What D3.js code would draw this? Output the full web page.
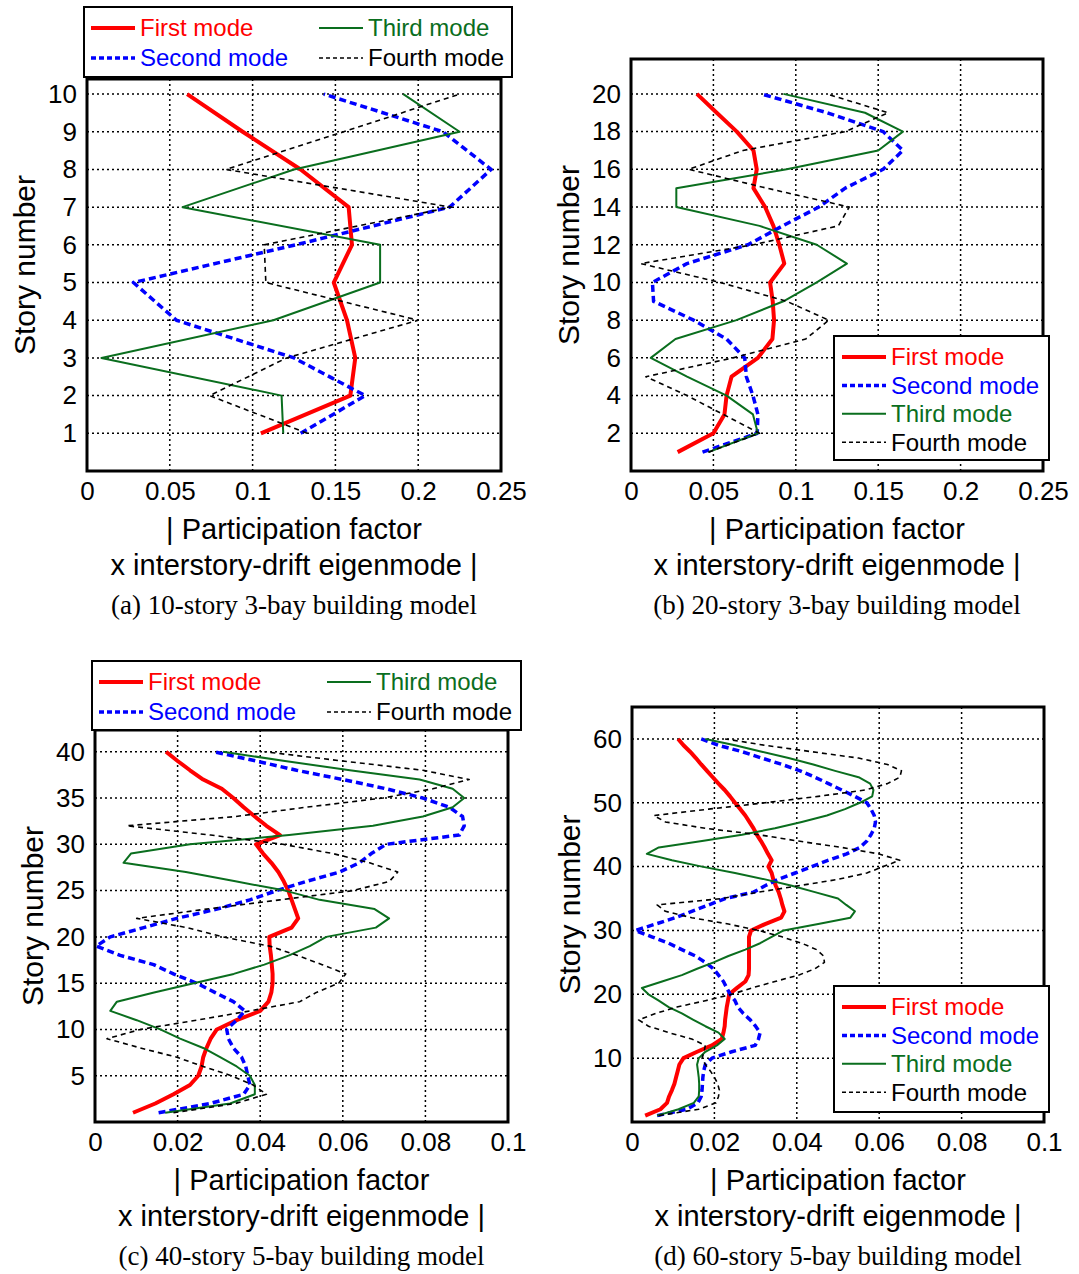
<!DOCTYPE html>
<html>
<head>
<meta charset="utf-8">
<script src="https://cdn.jsdelivr.net/npm/d3@7"></script>
<style>
  body { margin: 0; background: #fff; }
</style>
</head>
<body>
<div id="chart"></div>
<script>
// values are read per story, from story 1 (bottom) to the top story
var modeNames = ["First mode", "Second mode", "Third mode", "Fourth mode"];

// (a) 10-story
var a_first = [0.105, 0.159, 0.162, 0.157, 0.149, 0.160, 0.158, 0.129, 0.094, 0.0605];
var a_second = [0.129, 0.168, 0.125, 0.054, 0.028, 0.126, 0.219, 0.244, 0.215, 0.143];
var a_third = [0.1185, 0.1175, 0.0087, 0.1125, 0.177, 0.177, 0.0577, 0.125, 0.225, 0.191];
var a_fourth = [0.133, 0.074, 0.1206, 0.200, 0.108, 0.107, 0.220, 0.084, 0.155, 0.225];

// (b) 20-story
var b_first = [0.0283, 0.050, 0.0567, 0.058, 0.061, 0.077, 0.0858, 0.0868, 0.086, 0.0844,
  0.093, 0.090, 0.0864, 0.0814, 0.0743, 0.0763, 0.0743, 0.0642, 0.052, 0.040];
var b_second = [0.0434, 0.0766, 0.077, 0.074, 0.070, 0.069, 0.058, 0.038, 0.0137, 0.013,
  0.034, 0.071, 0.092, 0.114, 0.130, 0.153, 0.165, 0.153, 0.119, 0.079];
var b_third = [0.047, 0.077, 0.074, 0.058, 0.034, 0.012, 0.027, 0.064, 0.0925, 0.1127,
  0.131, 0.1127, 0.078, 0.0275, 0.0275, 0.0945, 0.150, 0.165, 0.142, 0.0925];
var b_fourth = [0.047, 0.078, 0.056, 0.034, 0.009, 0.062, 0.106, 0.120, 0.0945, 0.054,
  0.006, 0.0743, 0.1258, 0.1324, 0.0824, 0.035, 0.068, 0.130, 0.156, 0.1187];

// (c) 40-story
var c_first = [0.0092, 0.0146, 0.019, 0.023, 0.025, 0.0258, 0.0262, 0.027, 0.028, 0.0295,
  0.0343, 0.040, 0.042, 0.0427, 0.043, 0.043, 0.0428, 0.0426, 0.0423, 0.0422,
  0.0476, 0.0492, 0.0484, 0.0476, 0.0468, 0.0457, 0.0444, 0.0427, 0.0407, 0.039,
  0.0448, 0.0415, 0.0387, 0.036, 0.0335, 0.0307, 0.0262, 0.023, 0.020, 0.0172];
var c_second = [0.0154, 0.0279, 0.036, 0.0375, 0.037, 0.0365, 0.0355, 0.0335, 0.0323, 0.0319,
  0.0343, 0.0363, 0.0335, 0.029, 0.0246, 0.019, 0.0142, 0.0061, 0.0003, 0.0037,
  0.0118, 0.0198, 0.0295, 0.0375, 0.044, 0.0512, 0.0592, 0.064, 0.0669, 0.0705,
  0.0882, 0.0894, 0.089, 0.0858, 0.0794, 0.0705, 0.060, 0.0488, 0.039, 0.0288];
var c_third = [0.017, 0.0327, 0.0387, 0.0387, 0.0375, 0.0343, 0.0303, 0.0262, 0.0206, 0.0158,
  0.0101, 0.0037, 0.0053, 0.0143, 0.0239, 0.0336, 0.041, 0.047, 0.052, 0.056,
  0.068, 0.0712, 0.0677, 0.0544, 0.046, 0.034, 0.022, 0.0069, 0.0087, 0.023,
  0.047, 0.0673, 0.0794, 0.0866, 0.0894, 0.0866, 0.0786, 0.0617, 0.046, 0.031];
var c_fourth = [0.019, 0.034, 0.0415, 0.0383, 0.033, 0.0262, 0.0198, 0.011, 0.0029, 0.011,
  0.0246, 0.0375, 0.0496, 0.0536, 0.059, 0.0607, 0.055, 0.049, 0.0423, 0.031,
  0.0222, 0.0101, 0.027, 0.0448, 0.0625, 0.0713, 0.0733, 0.0665, 0.0576, 0.0455,
  0.028, 0.0077, 0.034, 0.051, 0.0697, 0.0818, 0.0906, 0.0794, 0.060, 0.041];

// (d) 60-story
var d_first = [0.0032, 0.0069, 0.0085, 0.009, 0.0097, 0.0103, 0.0107, 0.0111, 0.0115, 0.0125,
  0.0158, 0.0194, 0.0218, 0.0222, 0.0225, 0.0226, 0.0228, 0.023, 0.0233, 0.0236,
  0.0255, 0.0275, 0.0283, 0.0284, 0.0284, 0.0284, 0.0284, 0.0284, 0.0284, 0.0289,
  0.0323, 0.0362, 0.037, 0.0365, 0.0361, 0.0356, 0.0349, 0.0343, 0.0339, 0.0331,
  0.0339, 0.033, 0.0322, 0.0313, 0.0303, 0.0295, 0.0285, 0.0275, 0.0263, 0.025,
  0.0238, 0.0225, 0.021, 0.0196, 0.0182, 0.0168, 0.0155, 0.0141, 0.0125, 0.0112];
var d_second = [0.0061, 0.0133, 0.016, 0.0168, 0.017, 0.0171, 0.0172, 0.0174, 0.0178, 0.0194,
  0.0242, 0.0299, 0.0307, 0.0311, 0.030, 0.0287, 0.027, 0.0257, 0.025, 0.0238,
  0.023, 0.0222, 0.021, 0.0198, 0.0178, 0.0154, 0.0121, 0.0089, 0.0048, 0.0008,
  0.0057, 0.0105, 0.0145, 0.0186, 0.0226, 0.0295, 0.0323, 0.0355, 0.0396, 0.0436,
  0.0477, 0.0521, 0.0553, 0.057, 0.058, 0.0588, 0.0591, 0.0588, 0.058, 0.057,
  0.0541, 0.0509, 0.0477, 0.0444, 0.0408, 0.0364, 0.0315, 0.0267, 0.021, 0.0168];
var d_third = [0.0061, 0.0113, 0.015, 0.0162, 0.0163, 0.0163, 0.0162, 0.016, 0.0158, 0.0162,
  0.0178, 0.0206, 0.0225, 0.021, 0.0178, 0.0149, 0.0121, 0.0089, 0.0065, 0.004,
  0.0024, 0.0073, 0.0121, 0.0158, 0.0198, 0.0234, 0.0275, 0.0311, 0.0339, 0.0368,
  0.0452, 0.053, 0.0541, 0.052, 0.050, 0.0444, 0.0388, 0.0323, 0.025, 0.017,
  0.0097, 0.0036, 0.0065, 0.017, 0.0267, 0.0347, 0.0412, 0.0473, 0.0517, 0.0553,
  0.0583, 0.0586, 0.0578, 0.055, 0.0493, 0.044, 0.038, 0.0315, 0.025, 0.0178];
var d_fourth = [0.0065, 0.0162, 0.0204, 0.021, 0.0212, 0.0208, 0.020, 0.019, 0.0178, 0.017,
  0.0175, 0.0178, 0.0145, 0.0089, 0.004, 0.0016, 0.0057, 0.0109, 0.0178, 0.0242,
  0.0291, 0.0347, 0.0404, 0.0444, 0.0467, 0.0465, 0.0448, 0.0412, 0.0364, 0.0307,
  0.0234, 0.0145, 0.0081, 0.0061, 0.0218, 0.0307, 0.0404, 0.050, 0.057, 0.061,
  0.065, 0.0598, 0.0509, 0.0404, 0.0307, 0.0178, 0.0081, 0.0053, 0.0186, 0.0323,
  0.0452, 0.0566, 0.062, 0.065, 0.0654, 0.062, 0.055, 0.0436, 0.0323, 0.0226];

// tick labels
var xTicksWide = [0, 0.05, 0.1, 0.15, 0.2, 0.25];
var xTicksNarrow = [0, 0.02, 0.04, 0.06, 0.08, 0.1];
var yTicksA = [1, 2, 3, 4, 5, 6, 7, 8, 9, 10];
var yTicksB = [2, 4, 6, 8, 10, 12, 14, 16, 18, 20];
var yTicksC = [5, 10, 15, 20, 25, 30, 35, 40];
var yTicksD = [10, 20, 30, 40, 50, 60];

var captions = ["(a) 10-story 3-bay building model", "(b) 20-story 3-bay building model",
  "(c) 40-story 5-bay building model", "(d) 60-story 5-bay building model"];

// line look for each mode
var styles = [
  { color: "#ff0000", width: 4, dash: null },
  { color: "#0000ff", width: 3.5, dash: "7,4" },
  { color: "#0a6e1e", width: 2, dash: null },
  { color: "#000000", width: 1.6, dash: "5,4" }
];

var panels = [
  { x0: 87, x1: 501, y0: 79, y1: 471, xMax: 0.25, yMax: 10.4, xTicks: xTicksWide, yTicks: yTicksA,
    series: [a_first, a_second, a_third, a_fourth], caption: captions[0],
    legend: { x: 84, y: 7, w: 428, h: 70, cols: 2 } },
  { x0: 631, x1: 1043, y0: 59, y1: 471, xMax: 0.25, yMax: 21.85, xTicks: xTicksWide, yTicks: yTicksB,
    series: [b_first, b_second, b_third, b_fourth], caption: captions[1],
    legend: { x: 834, y: 336, w: 215, h: 124, cols: 1 } },
  { x0: 95, x1: 508, y0: 730, y1: 1122, xMax: 0.1, yMax: 42.35, xTicks: xTicksNarrow, yTicks: yTicksC,
    series: [c_first, c_second, c_third, c_fourth], caption: captions[2],
    legend: { x: 92, y: 661, w: 429, h: 69, cols: 2 } },
  { x0: 632, x1: 1044, y0: 707, y1: 1122, xMax: 0.1, yMax: 65, xTicks: xTicksNarrow, yTicks: yTicksD,
    series: [d_first, d_second, d_third, d_fourth], caption: captions[3],
    legend: { x: 834, y: 986, w: 215, h: 126, cols: 1 } }
];

var svg = d3.select("#chart")
  .append("svg")
  .attr("width", 1079)
  .attr("height", 1274)
  .style("font-family", "Liberation Sans, Arial, sans-serif");

function tickText(d) {
  return d === 0 ? "0" : String(+d.toFixed(2));
}

panels.forEach(function (p) {
  var g = svg.append("g");

  var x = d3.scaleLinear().domain([0, p.xMax]).range([p.x0, p.x1]);
  var y = d3.scaleLinear().domain([0, p.yMax]).range([p.y1, p.y0]);

  // dotted grid
  g.selectAll(".vgrid")
    .data(p.xTicks.slice(1, -1))
    .enter()
    .append("line")
    .attr("x1", function (d) { return x(d) })
    .attr("x2", function (d) { return x(d) })
    .attr("y1", p.y0)
    .attr("y2", p.y1)
    .attr("stroke", "#000")
    .attr("stroke-width", 1.5)
    .attr("stroke-dasharray", "2,3");
  g.selectAll(".hgrid")
    .data(p.yTicks)
    .enter()
    .append("line")
    .attr("x1", p.x0)
    .attr("x2", p.x1)
    .attr("y1", function (d) { return y(d) })
    .attr("y2", function (d) { return y(d) })
    .attr("stroke", "#000")
    .attr("stroke-width", 1.5)
    .attr("stroke-dasharray", "2,3");

  // mode shapes
  p.series.forEach(function (vals, k) {
    var s = styles[k];
    g.append("path")
      .datum(vals)
      .attr("fill", "none")
      .attr("stroke", s.color)
      .attr("stroke-width", s.width)
      .attr("stroke-dasharray", s.dash)
      .attr("stroke-linejoin", "round")
      .attr("d", d3.line()
        .x(function (d) { return x(d) })
        .y(function (d, i) { return y(i + 1) })
      );
  });

  // frame
  g.append("rect")
    .attr("x", p.x0)
    .attr("y", p.y0)
    .attr("width", p.x1 - p.x0)
    .attr("height", p.y1 - p.y0)
    .attr("fill", "none")
    .attr("stroke", "#000")
    .attr("stroke-width", 3);

  // axes (labels only)
  var xa = g.append("g")
    .attr("transform", "translate(0," + p.y1 + ")")
    .call(d3.axisBottom(x).tickValues(p.xTicks).tickFormat(tickText).tickSize(0).tickPadding(11));
  var ya = g.append("g")
    .attr("transform", "translate(" + p.x0 + ",0)")
    .call(d3.axisLeft(y).tickValues(p.yTicks).tickSize(0).tickPadding(10));
  [xa, ya].forEach(function (a) {
    a.select(".domain").remove();
    a.selectAll("text")
      .attr("fill", "#000")
      .style("font-size", "26px")
      .style("font-family", "Liberation Sans, Arial, sans-serif");
  });

  var cx = (p.x0 + p.x1) / 2;
  g.append("text")
    .attr("x", cx)
    .attr("y", p.y1 + 58)
    .attr("dy", "0.35em")
    .attr("text-anchor", "middle")
    .style("font-size", "29px")
    .text("| Participation factor");
  g.append("text")
    .attr("x", cx)
    .attr("y", p.y1 + 94)
    .attr("dy", "0.35em")
    .attr("text-anchor", "middle")
    .style("font-size", "29px")
    .text("x interstory-drift eigenmode |");
  g.append("text")
    .attr("x", cx)
    .attr("y", p.y1 + 134)
    .attr("dy", "0.35em")
    .attr("text-anchor", "middle")
    .style("font-family", "Liberation Serif, Times New Roman, serif")
    .style("font-size", "27px")
    .text(p.caption);
  g.append("text")
    .attr("transform", "translate(" + (p.x0 - 63) + "," + ((p.y0 + p.y1) / 2 - 10) + ") rotate(-90)")
    .attr("dy", "0.35em")
    .attr("text-anchor", "middle")
    .style("font-size", "30px")
    .text("Story number");

  // legend
  var L = p.legend;
  var lg = g.append("g");
  lg.append("rect")
    .attr("x", L.x)
    .attr("y", L.y)
    .attr("width", L.w)
    .attr("height", L.h)
    .attr("fill", "#fff")
    .attr("stroke", "#000")
    .attr("stroke-width", 2);
  modeNames.forEach(function (name, k) {
    var lx, ly;
    if (L.cols === 2) {
      lx = L.x + (k < 2 ? 7 : 235);
      ly = L.y + (k % 2 === 0 ? 21 : 51);
    } else {
      lx = L.x + 8;
      ly = L.y + 21 + k * 28.4;
    }
    var s = styles[k];
    lg.append("line")
      .attr("x1", lx)
      .attr("x2", lx + 44)
      .attr("y1", ly)
      .attr("y2", ly)
      .attr("stroke", s.color)
      .attr("stroke-width", s.width)
      .attr("stroke-dasharray", k === 1 ? "5,3" : (k === 3 ? "4,3" : null));
    lg.append("text")
      .attr("x", lx + 49)
      .attr("y", ly)
      .attr("dy", "0.35em")
      .attr("fill", s.color)
      .style("font-size", "24px")
      .text(name);
  });
});
</script>
</body>
</html>
